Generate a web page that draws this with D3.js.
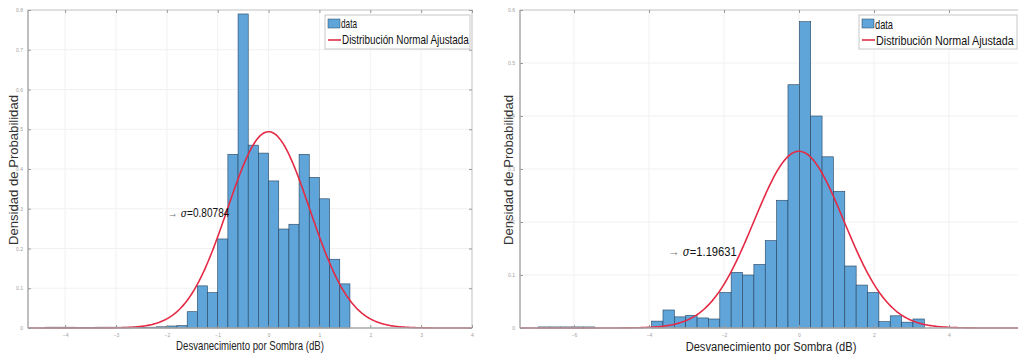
<!DOCTYPE html>
<html><head><meta charset="utf-8">
<script src="https://cdn.jsdelivr.net/npm/d3@7"></script>
<style>
html,body{margin:0;padding:0;background:#fff;}
svg{display:block;}
text{font-family:"Liberation Sans",Arial,sans-serif;}
</style></head><body>
<svg id="chart" width="1018" height="356"></svg>
<script>
// ---------- data ----------
const leftBinStart = -4.4;
const leftBinWidth = 0.2;
const leftDensity = [0.002,0.002,0.002,0.001,0.001,0.002,0.002,0.002,0.002,0.002,0.002,0.003,0.005,0.006,
  0.041,0.106,0.089,0.224,0.437,0.79,0.46,0.44,0.37,0.249,0.261,0.437,0.379,0.325,0.173,0.111];
const leftMu = 0, leftSigma = 0.80784;
const leftXTicks = [-4,-3,-2,-1,0,1,2,3,4];
const leftYTicks = [0,0.1,0.2,0.3,0.4,0.5,0.6,0.7,0.8];
const leftXDomain = [-4.73, 4];
const leftYDomain = [0, 0.8];

const rightBinStart = -6.96;
const rightBinWidth = 0.303;
const rightDensity = [0.002,0.002,0.002,0.002,0.002,0,0,0,0,0,
  0.013,0.034,0.021,0.024,0.019,0.017,0.067,0.105,0.10,0.12,0.165,0.241,0.459,0.578,0.40,0.323,0.258,0.117,0.081,0.067,0.012,0.023,0.011,0.017];
const rightMu = 0, rightSigma = 1.19631;
const rightXTicks = [-6,-4,-2,0,2,4];
const rightYTicks = [0,0.1,0.2,0.3,0.4,0.5,0.6];
const rightXDomain = [-7.44, 6];
const rightYDomain = [0, 0.6];

const legendLabels = ["data", "Distribución Normal Ajustada"];
const xLabel = "Desvanecimiento por Sombra (dB)";
const yLabel = "Densidad de Probabilidad";

// ---------- drawing ----------
const svg = d3.select("#chart");
const barFill = "#5fa5d9", barStroke = "#27435e", curveColor = "#e42a45";

// put a text in a group scaled horizontally so that it spans `width` px (narrow font look)
function narrowText(parent, x, y, str, size, width, anchor, fill, rotate){
  const g = parent.append("g");
  const t = g.append("text").attr("x",0).attr("y",0).attr("dy","0.35em")
    .attr("text-anchor", anchor).style("font-size", size+"px").attr("fill", fill).text(str);
  const len = t.node().getComputedTextLength();
  const s = width / len;
  g.attr("transform", `translate(${x},${y})${rotate?` rotate(${rotate})`:""} scale(${s},1)`);
  return t;
}

function panel(opt){
  const g = svg.append("g");
  const x = d3.scaleLinear().domain(opt.xDomain).range(opt.xRange);
  const y = d3.scaleLinear().domain(opt.yDomain).range([328, 10]);
  const [x0,x1] = opt.xRange;
  // grid
  g.append("g").selectAll("line").data(opt.xTicks).join("line")
    .attr("x1", d=>x(d)).attr("x2", d=>x(d)).attr("y1", y.range()[0]).attr("y2", y.range()[1])
    .attr("stroke", "#f1f1f1").attr("stroke-width", 1);
  g.append("g").selectAll("line").data(opt.yTicks).join("line")
    .attr("x1", x0).attr("x2", x1).attr("y1", d=>y(d)).attr("y2", d=>y(d))
    .attr("stroke", "#f1f1f1").attr("stroke-width", 1);
  // bars
  const bins = opt.density.map((v,i)=>({x0: opt.binStart + i*opt.binWidth, x1: opt.binStart + (i+1)*opt.binWidth, v}));
  g.append("g").selectAll("rect").data(bins.filter(b=>b.v>0)).join("rect")
    .attr("x", d=>x(d.x0)).attr("width", d=>x(d.x1)-x(d.x0))
    .attr("y", d=>y(d.v)).attr("height", d=>y(0)-y(d.v))
    .attr("fill", barFill).attr("stroke", barStroke).attr("stroke-width", 0.6);
  // fitted normal
  const pdf = t => Math.exp(-0.5*((t-opt.mu)/opt.sigma)**2)/(opt.sigma*Math.sqrt(2*Math.PI));
  const pts = d3.range(0, 401).map(i => { const t = opt.xDomain[0] + i*(opt.xDomain[1]-opt.xDomain[0])/400; return [t, pdf(t)]; });
  g.append("path").datum(pts)
    .attr("d", d3.line().x(d=>x(d[0])).y(d=>y(d[1])))
    .attr("fill","none").attr("stroke", curveColor).attr("stroke-width", 1.6);
  // axes (inward ticks, box)
  const axCol = "#9a9a9a";
  const ax = g.append("g");
  ax.append("rect").attr("x", x0).attr("y", 10).attr("width", x1-x0).attr("height", 318)
    .attr("fill","none").attr("stroke", "#c8c8c8").attr("stroke-width", 1);
  ax.append("line").attr("x1", x0).attr("x2", x0).attr("y1", 10).attr("y2", 328).attr("stroke", axCol);
  ax.append("line").attr("x1", x0).attr("x2", x1).attr("y1", 328).attr("y2", 328).attr("stroke", axCol);
  const bottom = d3.axisBottom(x).tickValues(opt.xTicks).tickSizeInner(-3).tickSizeOuter(0).tickPadding(5).tickFormat(d3.format("d"));
  const bx = ax.append("g").attr("transform","translate(0,328)").call(bottom);
  bx.select(".domain").remove();
  bx.selectAll("line").attr("stroke", axCol);
  bx.selectAll("text").attr("fill","#a0a0a0").style("font-size","5px");
  const top = d3.axisTop(x).tickValues(opt.xTicks).tickSizeInner(-3).tickSizeOuter(0).tickFormat("");
  const tx = ax.append("g").attr("transform","translate(0,10)").call(top);
  tx.select(".domain").remove(); tx.selectAll("line").attr("stroke", axCol);
  const left = d3.axisLeft(y).tickValues(opt.yTicks).tickSizeInner(-3).tickSizeOuter(0).tickPadding(5).tickFormat(d=>d===0?"0":d3.format(".1f")(d));
  const ly = ax.append("g").attr("transform",`translate(${x0},0)`).call(left);
  ly.select(".domain").remove(); ly.selectAll("line").attr("stroke", axCol);
  ly.selectAll("text").attr("fill","#a0a0a0").style("font-size","5px");
  const right = d3.axisRight(y).tickValues(opt.yTicks).tickSizeInner(-3).tickSizeOuter(0).tickFormat("");
  const ry = ax.append("g").attr("transform",`translate(${x1},0)`).call(right);
  ry.select(".domain").remove(); ry.selectAll("line").attr("stroke", axCol);
  // axis labels
  narrowText(g, opt.xLabelX, 346, xLabel, opt.xLabelSize, opt.xLabelLen, "middle", "#222");
  narrowText(g, opt.yLabelX, 170, yLabel, opt.yLabelSize, opt.yLabelLen, "middle", "#333", -90);
  // annotation
  const annG = g.append("g").attr("transform", `translate(${x(opt.annX)},${y(opt.annY)}) scale(${opt.annScale},1)`);
  const ann = annG.append("text").attr("x", 0).attr("y", 0).attr("dy","0.35em")
    .style("font-size", opt.annSize+"px").attr("fill","#111");
  ann.append("tspan").attr("fill","#777").text("\u2192 ");
  ann.append("tspan").style("font-style","italic").style("font-family",'"DejaVu Serif",serif').style("font-size",(opt.annSize-1)+"px").text("\u03C3");
  ann.append("tspan").text("=" + opt.sigma.toFixed(5));
  // legend
  const lg = g.append("g").attr("transform",`translate(${opt.legX},15)`);
  lg.append("rect").attr("x",0).attr("y",0).attr("width", opt.legW).attr("height", 34)
    .attr("fill","#fff").attr("stroke","#c8c8c8").attr("stroke-width",1);
  lg.append("rect").attr("x",3).attr("y",4).attr("width",12).attr("height",9)
    .attr("fill", barFill).attr("stroke", barStroke).attr("stroke-width",0.5);
  lg.append("line").attr("x1",3).attr("x2",16).attr("y1",25).attr("y2",25).attr("stroke",curveColor).attr("stroke-width",1.6);
  narrowText(lg, 16, 9, legendLabels[0], opt.legSize, opt.legLen0, "start", "#111");
  narrowText(lg, 17, 25, legendLabels[1], opt.legSize, opt.legLen1, "start", "#111");
}

panel({xDomain:leftXDomain, xRange:[28,472], yDomain:leftYDomain, xTicks:leftXTicks, yTicks:leftYTicks,
  binStart:leftBinStart, binWidth:leftBinWidth, density:leftDensity, mu:leftMu, sigma:leftSigma,
  xLabelX:250, xLabelSize:12, xLabelLen:148, yLabelX:14, yLabelSize:12.5, yLabelLen:150,
  annX:-1.98, annY:0.29, annSize:12, annScale:0.84,
  legX:325, legW:145, legSize:12, legLen0:16, legLen1:127});
panel({xDomain:rightXDomain, xRange:[520,1024], yDomain:rightYDomain, xTicks:rightXTicks, yTicks:rightYTicks,
  binStart:rightBinStart, binWidth:rightBinWidth, density:rightDensity, mu:rightMu, sigma:rightSigma,
  xLabelX:771, xLabelSize:13.5, xLabelLen:171, yLabelX:509, yLabelSize:12.5, yLabelLen:150,
  annX:-3.48, annY:0.145, annSize:13, annScale:0.86,
  legX:859, legW:158, legSize:13, legLen0:18, legLen1:138});
</script>
</body></html>
